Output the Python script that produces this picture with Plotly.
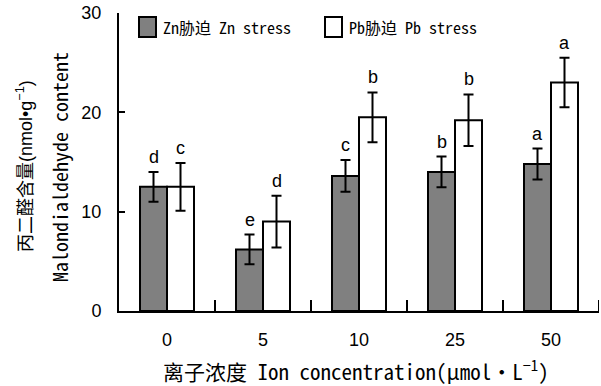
import plotly.graph_objects as go

# ---- data ----
categories = ["0", "5", "10", "25", "50"]
zn_values = [12.5, 6.2, 13.6, 14.0, 14.8]
zn_errors = [1.5, 1.5, 1.6, 1.55, 1.55]
pb_values = [12.5, 9.0, 19.5, 19.2, 23.0]
pb_errors = [2.4, 2.6, 2.5, 2.6, 2.5]
zn_letters = ["d", "e", "c", "b", "a"]
pb_letters = ["c", "d", "b", "b", "a"]
y_ticks = [0, 10, 20, 30]

zn_name = "Zn胁迫 Zn stress"
pb_name = "Pb胁迫 Pb stress"
y_title_cn = "丙二醛含量(nmol•g<sup>−1</sup>)"
y_title_en = "Malondialdehyde content"
x_title = "离子浓度 Ion concentration(μmol•L<sup>−1</sup>)"

# ---- layout params ----
W, H = 601, 386
ML, MR, MT, MB = 119, 2, 13, 75
BARGAP = 0.4375
plot_w = W - ML - MR
plot_h = H - MT - MB
cat_w = plot_w / len(categories)
half_bar = cat_w * (1 - BARGAP) / 4
ZN_COLOR = "#808080"
PB_COLOR = "white"

mono = "Noto Sans Mono CJK SC, DejaVu Sans Mono, Noto Sans CJK SC, monospace"
sans = "Liberation Sans, Arial, Noto Sans CJK SC, sans-serif"

def px_x(px):
    return (px - ML) / plot_w
def px_y(py):
    return (H - MB - py) / plot_h

fig = go.Figure()
fig.add_trace(go.Bar(
    x=categories, y=zn_values, name=zn_name, showlegend=False,
    marker=dict(color=ZN_COLOR, line=dict(color="black", width=2)),
    error_y=dict(type="data", array=zn_errors, color="black", thickness=2, width=5),
))
fig.add_trace(go.Bar(
    x=categories, y=pb_values, name=pb_name, showlegend=False,
    marker=dict(color=PB_COLOR, line=dict(color="black", width=2)),
    error_y=dict(type="data", array=pb_errors, color="black", thickness=2, width=5),
))

annotations = []
for i, (v, e, t) in enumerate(zip(zn_values, zn_errors, zn_letters)):
    annotations.append(dict(x=i, y=v + e, text=t, showarrow=False, xref="x", yref="y",
                            xshift=-half_bar, yshift=3, yanchor="bottom",
                            font=dict(family=sans, size=18, color="black")))
for i, (v, e, t) in enumerate(zip(pb_values, pb_errors, pb_letters)):
    annotations.append(dict(x=i, y=v + e, text=t, showarrow=False, xref="x", yref="y",
                            xshift=half_bar, yshift=3, yanchor="bottom",
                            font=dict(family=sans, size=18, color="black")))

# axis titles
annotations.append(dict(x=px_x(24), y=px_y(166), xref="paper", yref="paper",
                        text=y_title_cn, textangle=-90, showarrow=False,
                        xanchor="center", yanchor="middle",
                        font=dict(family=sans, size=18, color="black")))
annotations.append(dict(x=px_x(59), y=px_y(167), xref="paper", yref="paper",
                        text=y_title_en, textangle=-90, showarrow=False,
                        xanchor="center", yanchor="middle",
                        font=dict(family=mono, size=20, color="black")))
annotations.append(dict(x=px_x(356), y=px_y(370), xref="paper", yref="paper",
                        text=x_title, showarrow=False,
                        xanchor="center", yanchor="middle",
                        font=dict(family=mono, size=21, color="black")))

# legend (drawn manually for larger swatches)
shapes = []
legend_items = [(zn_name, ZN_COLOR, 139), (pb_name, PB_COLOR, 325)]
for name, color, left in legend_items:
    shapes.append(dict(type="rect", xref="paper", yref="paper",
                       x0=px_x(left), x1=px_x(left + 17), y0=px_y(37), y1=px_y(17),
                       fillcolor=color, line=dict(color="black", width=2), layer="above"))
    annotations.append(dict(x=px_x(left + 22), y=px_y(27), xref="paper", yref="paper",
                            text=name, showarrow=False, xanchor="left", yanchor="middle",
                            font=dict(family=mono, size=16, color="black")))

# inside ticks at category boundaries on the x axis
tick_h = 11 / plot_h
for i in range(len(categories)):
    shapes.append(dict(type="line", xref="x", yref="paper", x0=i + 0.5, x1=i + 0.5,
                       y0=0, y1=tick_h, line=dict(color="black", width=2), layer="above"))

fig.update_layout(
    width=W, height=H,
    margin=dict(l=ML, r=MR, t=MT, b=MB, pad=0),
    paper_bgcolor="white", plot_bgcolor="white",
    barmode="group", bargap=BARGAP, bargroupgap=0,
    showlegend=False,
    annotations=annotations,
    shapes=shapes,
    xaxis=dict(type="category", range=[-0.5, len(categories) - 0.5],
               showline=True, linecolor="black", linewidth=2,
               ticks="", showgrid=False, zeroline=False,
               tickfont=dict(family=sans, size=18, color="black"),
               ticklabelstandoff=11, tickangle=0),
    yaxis=dict(range=[0, 30], tickvals=y_ticks, showline=True, linecolor="black",
               linewidth=2, ticks="inside", ticklen=6, tickwidth=2, tickcolor="black",
               showgrid=False, zeroline=False,
               tickfont=dict(family=sans, size=18, color="black"),
               ticklabelstandoff=12),
)

fig.write_html("out.html")
